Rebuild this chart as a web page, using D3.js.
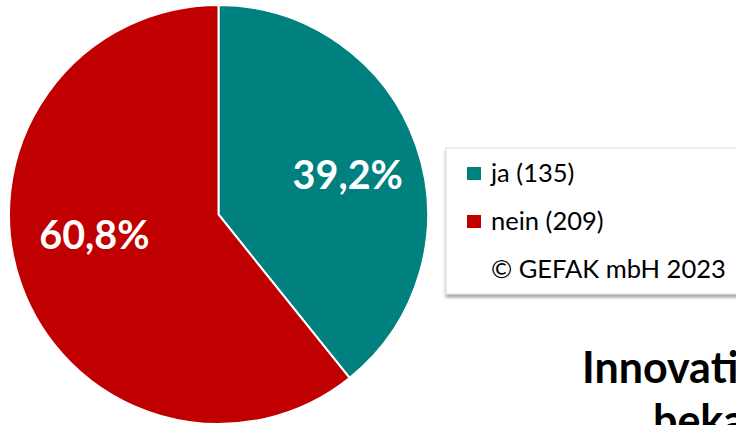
<!DOCTYPE html>
<html>
<head>
<meta charset="utf-8">
<script src="https://cdn.jsdelivr.net/npm/d3@7"></script>
<style>
  body { margin: 0; background: #fff; }
  svg { display: block; font-family: Lato, "Open Sans", sans-serif; }
</style>
</head>
<body>
<div id="chart"></div>
<script>
// data
var categories = ["ja", "nein"];
var counts = [135, 209];
var colors = ["#00807F", "#C00000"];
var copyright = "© GEFAK mbH 2023";
var titleLines = ["Innovationsgutschein", "bekannt?"];

var width = 736,
    height = 425;

var total = d3.sum(counts);
var fmt = function(v) { return (v * 100).toFixed(1).replace(".", ",") + "%"; };

var svg = d3.select("#chart").append("svg")
  .attr("width", width)
  .attr("height", height);

// shadow for the legend box
var defs = svg.append("defs");
var f = defs.append("filter").attr("id", "shadow")
  .attr("x", "-5%").attr("y", "-5%").attr("width", "115%").attr("height", "120%");
f.append("feDropShadow")
  .attr("dx", 0).attr("dy", 3).attr("stdDeviation", 1.5)
  .attr("flood-color", "#000").attr("flood-opacity", 0.35);

var radius = 209.5;
var cx = 218.5, cy = 214.5;

var pie = d3.pie().sort(null);
var arc = d3.arc().innerRadius(0).outerRadius(radius);

// "best fit" label placement, like the office chart: nudge angle and radius a bit
var labelNudge = [{ a: 2.4, r: 0.645 }, { a: 10, r: 0.60 }];
function labelPos(d, i) {
  var a = (d.startAngle + d.endAngle) / 2 + labelNudge[i].a * Math.PI / 180;
  var r = radius * labelNudge[i].r;
  return [Math.sin(a) * r, -Math.cos(a) * r];
}

var g = svg.append("g")
  .attr("transform", "translate(" + cx + "," + cy + ")");

var slices = g.selectAll("g.slice")
  .data(pie(counts))
  .enter().append("g")
  .attr("class", "slice");

slices.append("path")
  .attr("d", arc)
  .attr("fill", function(d, i) { return colors[i]; })
  .attr("stroke", "#fff")
  .attr("stroke-width", 2);

slices.append("text")
  .attr("transform", function(d, i) {
    var c = labelPos(d, i);
    return "translate(" + c[0] + "," + c[1] + ")";
  })
  .attr("text-anchor", "middle")
  .attr("dy", "0.35em")
  .attr("fill", "#fff")
  .attr("font-weight", "bold")
  .attr("font-size", 39.5)
  .text(function(d) { return fmt(d.value / total); });

// legend
var legend = svg.append("g")
  .attr("transform", "translate(446,148)");

legend.append("rect")
  .attr("width", 320)
  .attr("height", 146)
  .attr("fill", "#fff")
  .attr("stroke", "#d9d9d9")
  .attr("stroke-width", 1)
  .attr("filter", "url(#shadow)");

var y = d3.scalePoint()
  .domain(d3.range(categories.length + 1))
  .range([25, 121]);

var items = legend.selectAll("g.item")
  .data(categories)
  .enter().append("g")
  .attr("class", "item")
  .attr("transform", function(d, i) { return "translate(0," + y(i) + ")"; });

items.append("rect")
  .attr("x", 21)
  .attr("y", -6)
  .attr("width", 14)
  .attr("height", 13)
  .attr("fill", function(d, i) { return colors[i]; });

items.append("text")
  .attr("x", 45)
  .attr("dy", "0.35em")
  .attr("font-size", 25.5)
  .attr("fill", "#000")
  .text(function(d, i) { return d + " (" + counts[i] + ")"; });

legend.append("text")
  .attr("x", 45)
  .attr("y", y(categories.length))
  .attr("dy", "0.35em")
  .attr("font-size", 25.5)
  .attr("fill", "#000")
  .text(copyright);

// title, cut off at the right edge as in the original
var title = svg.append("text")
  .attr("font-weight", "bold")
  .attr("font-size", 43)
  .attr("fill", "#000");

title.append("tspan")
  .attr("x", 582)
  .attr("y", 383)
  .text(titleLines[0]);

title.append("tspan")
  .attr("x", 653)
  .attr("y", 436)
  .text(titleLines[1]);
</script>
</body>
</html>
